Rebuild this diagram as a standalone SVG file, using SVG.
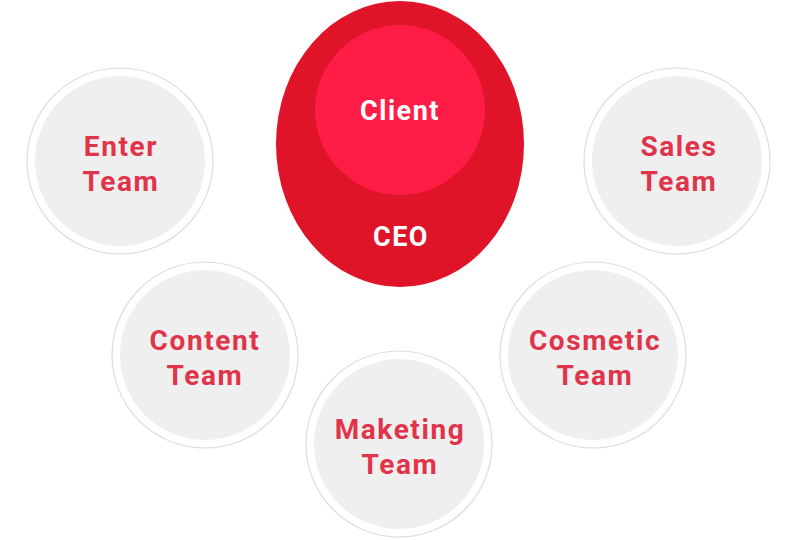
<svg xmlns="http://www.w3.org/2000/svg" width="800" height="540" viewBox="0 0 800 540">
<style>
.ring{fill:#ffffff;stroke:#dddddd;stroke-width:1.2}
.disc{fill:#efefef}
.lbl{font-family:Roboto,"Noto Sans","Liberation Sans",sans-serif;font-weight:700;font-size:28px;letter-spacing:1.6px;fill:#e0344a;text-anchor:middle}
.wl{font-family:Roboto,"Noto Sans","Liberation Sans",sans-serif;font-weight:700;font-size:27px;letter-spacing:1.5px;fill:#ffffff;text-anchor:middle}
</style>
<rect width="800" height="540" fill="#ffffff"/>
<g id="ceo">
<ellipse cx="400" cy="144" rx="124" ry="143" fill="#e01428"/>
<text class="wl" x="401" y="246">CEO</text>
</g>
<g id="client">
<circle cx="400" cy="110" r="85" fill="#ff1c47"/>
<text class="wl" x="400" y="120">Client</text>
</g>
<g id="enter">
<circle class="ring" cx="120" cy="161" r="93"/>
<circle class="disc" cx="120" cy="161" r="85"/>
<text class="lbl" x="121" y="156">Enter</text>
<text class="lbl" x="121" y="191">Team</text>
</g>
<g id="sales">
<circle class="ring" cx="677" cy="161" r="93"/>
<circle class="disc" cx="677" cy="161" r="85"/>
<text class="lbl" x="679" y="156">Sales</text>
<text class="lbl" x="679" y="191">Team</text>
</g>
<g id="content">
<circle class="ring" cx="205" cy="355" r="93"/>
<circle class="disc" cx="205" cy="355" r="85"/>
<text class="lbl" x="205" y="350">Content</text>
<text class="lbl" x="205" y="385">Team</text>
</g>
<g id="cosmetic">
<circle class="ring" cx="593" cy="355" r="93"/>
<circle class="disc" cx="593" cy="355" r="85"/>
<text class="lbl" x="595" y="350">Cosmetic</text>
<text class="lbl" x="595" y="385">Team</text>
</g>
<g id="maketing">
<circle class="ring" cx="399" cy="444" r="93"/>
<circle class="disc" cx="399" cy="444" r="85"/>
<text class="lbl" x="400" y="439">Maketing</text>
<text class="lbl" x="400" y="474">Team</text>
</g>
<g id="connectors"></g>
</svg>
